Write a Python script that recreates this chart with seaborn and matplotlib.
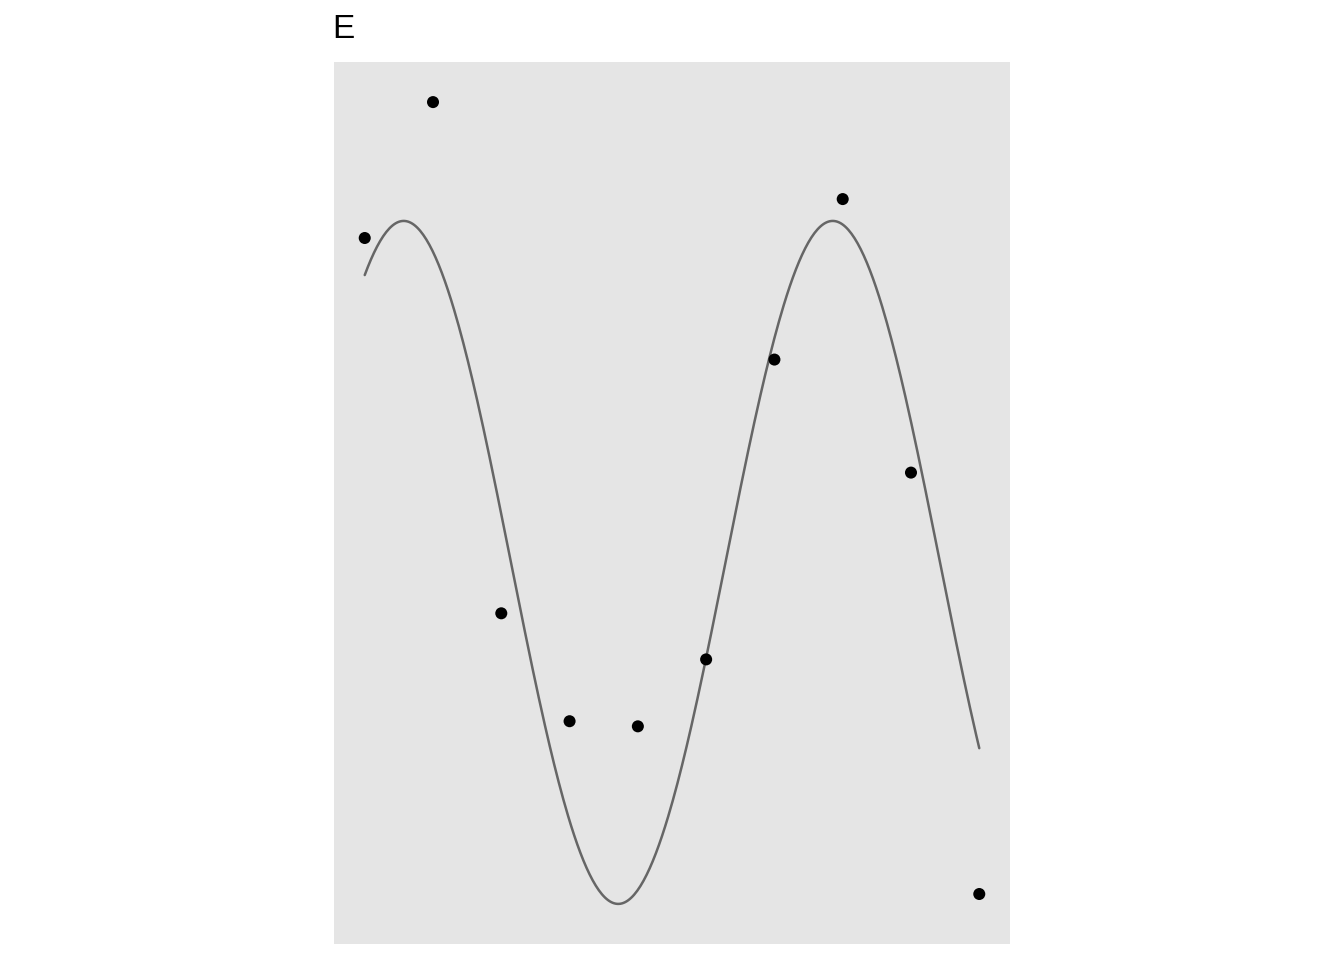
import numpy as np
import pandas as pd
import matplotlib
matplotlib.use('Agg')
import matplotlib.pyplot as plt
import seaborn as sns

x_obs = [1, 2, 3, 4, 5, 6, 7, 8, 9, 10]
y_obs = [0.950, 1.348, -0.149, -0.465, -0.480, -0.284, 0.594, 1.064, 0.263, -0.971]

# overlaid function curve y = sin(x), drawn over the range of the points
curve_from, curve_to = 1, 10

sns.set_theme(style='dark', rc={'axes.facecolor': '#E5E5E5'})
plt.rcParams['font.family'] = ['Liberation Sans', 'DejaVu Sans']

fig = plt.figure(figsize=(13.44, 9.6), dpi=100)
ax = fig.add_axes([334 / 1344, 1 - 944 / 960, 676 / 1344, 882 / 960])

df_obs = pd.DataFrame({'x': x_obs, 'y': y_obs})
xs = np.linspace(curve_from, curve_to, 400)
df_fun = pd.DataFrame({'x': xs, 'y': np.sin(xs)})

sns.lineplot(data=df_fun, x='x', y='y', color='#666666', linewidth=1.8, ax=ax)
sns.scatterplot(data=df_obs, x='x', y='y', color='black', s=75,
                edgecolor='none', ax=ax, zorder=3)

# ggplot-like 5% expansion on both axes
xmin, xmax = 1, 10
ymin = min(min(y_obs), -1)
ymax = max(max(y_obs), 1)
ax.set_xlim(xmin - 0.05 * (xmax - xmin), xmax + 0.05 * (xmax - xmin))
ax.set_ylim(ymin - 0.05 * (ymax - ymin), ymax + 0.05 * (ymax - ymin))

ax.set_xticks([])
ax.set_yticks([])
ax.set_xlabel('')
ax.set_ylabel('')
for s in ax.spines.values():
    s.set_visible(False)
ax.grid(False)

fig.text(332 / 1344, 1 - 30 / 960, 'E', fontsize=24, color='black',
         ha='left', va='center')

fig.savefig('out.png', dpi=100)
